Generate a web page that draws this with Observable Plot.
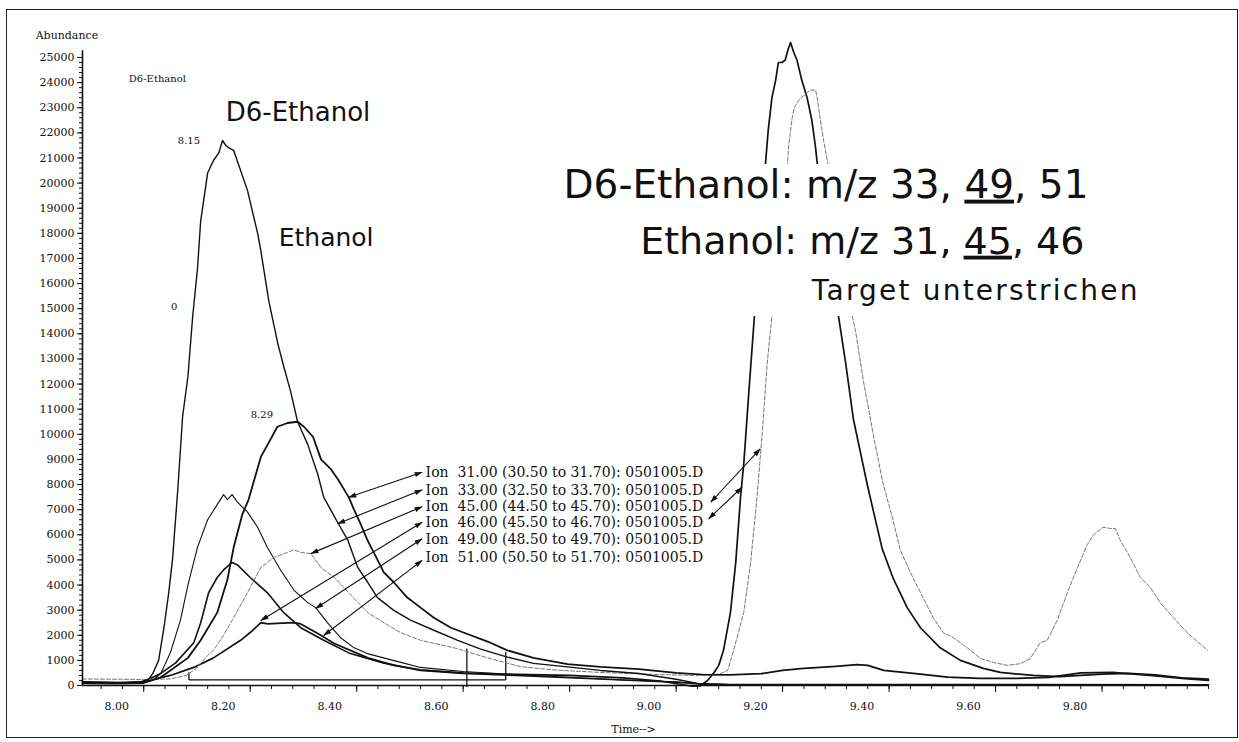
<!DOCTYPE html>
<html><head><meta charset="utf-8">
<script src="https://cdn.jsdelivr.net/npm/d3@7"></script>
<script src="https://cdn.jsdelivr.net/npm/@observablehq/plot@0.6"></script>
<style>
html,body{margin:0;padding:0;background:#fff;}
#wrap{position:relative;width:1239px;height:742px;overflow:hidden;background:#fff;}
#border{position:absolute;left:6px;top:9px;width:1232px;height:729px;border:1.5px solid #222;box-sizing:border-box;pointer-events:none;}
</style></head>
<body><div id="wrap"><div id="border"></div></div>
<script>
// ---------- data: extracted ion chromatograms [time (min), abundance] ----------
const ion31 = [[7.885,90],[7.95,80],[8.00,100],[8.03,300],[8.05,600],[8.083,1100],[8.107,1800],[8.138,2900],[8.157,4200],[8.169,5500],[8.185,6800],[8.197,7400],[8.220,9100],[8.233,9600],[8.251,10300],[8.270,10450],[8.289,10500],[8.301,10300],[8.318,9900],[8.333,9000],[8.352,8600],[8.365,8200],[8.385,7500],[8.395,7000],[8.408,6400],[8.420,5800],[8.432,5300],[8.451,4500],[8.470,4100],[8.495,3500],[8.520,3100],[8.545,2700],[8.577,2300],[8.608,2050],[8.646,1750],[8.683,1400],[8.732,1100],[8.796,850],[8.858,740],[8.93,650],[9.00,500],[9.05,430],[9.10,420],[9.16,470],[9.20,600],[9.24,680],[9.30,760],[9.34,830],[9.36,800],[9.39,600],[9.45,470],[9.51,330],[9.57,280],[9.64,280],[9.70,320],[9.76,500],[9.82,520],[9.89,400],[9.95,280],[10.0,200]];
const ion33 = [[7.885,140],[7.93,120],[7.97,110],[7.995,150],[8.010,260],[8.017,480],[8.028,1000],[8.038,2300],[8.047,3700],[8.054,5000],[8.064,7800],[8.073,10700],[8.083,12300],[8.092,14700],[8.101,16600],[8.107,18500],[8.120,20400],[8.131,20900],[8.141,21200],[8.148,21700],[8.154,21500],[8.160,21400],[8.169,21300],[8.182,20500],[8.195,19700],[8.205,18800],[8.214,18000],[8.220,17300],[8.235,15300],[8.252,13600],[8.263,12700],[8.276,11700],[8.289,10500],[8.308,9600],[8.327,8400],[8.338,7500],[8.351,7000],[8.364,6500],[8.383,5800],[8.402,4700],[8.421,4100],[8.439,3500],[8.469,3000],[8.501,2600],[8.545,2200],[8.590,1800],[8.633,1450],[8.683,1130],[8.732,880],[8.796,740],[8.858,600],[8.93,480],[9.00,250],[9.04,80],[9.10,40],[9.50,40],[10.0,30]];
const ion45 = [[7.885,260],[7.95,250],[8.00,240],[8.05,260],[8.08,400],[8.10,700],[8.12,1200],[8.131,1400],[8.150,2000],[8.169,2700],[8.195,3700],[8.220,4700],[8.245,5100],[8.270,5300],[8.282,5400],[8.295,5300],[8.314,5250],[8.333,4700],[8.358,4300],[8.389,3600],[8.421,2900],[8.451,2500],[8.483,2100],[8.520,1800],[8.583,1500],[8.646,1100],[8.708,750],[8.77,620],[8.858,520],[8.95,450],[9.03,400],[9.08,450],[9.097,600],[9.108,1400],[9.127,2900],[9.140,4900],[9.152,7500],[9.162,10100],[9.171,12800],[9.177,14100],[9.180,14700],[9.209,20600],[9.211,21400],[9.218,22600],[9.222,23000],[9.230,23300],[9.246,23600],[9.252,23700],[9.262,23700],[9.265,23400],[9.271,22500],[9.277,21700],[9.284,20900],[9.331,14700],[9.337,14100],[9.346,12900],[9.352,12100],[9.372,9800],[9.388,8100],[9.406,6700],[9.421,5400],[9.440,4500],[9.459,3700],[9.483,2700],[9.502,2100],[9.521,1900],[9.547,1500],[9.572,1070],[9.596,920],[9.622,800],[9.647,870],[9.665,1070],[9.684,1700],[9.697,1800],[9.716,2600],[9.735,3700],[9.754,4700],[9.772,5600],[9.784,6000],[9.802,6300],[9.816,6250],[9.825,6250],[9.834,5800],[9.853,5100],[9.872,4300],[9.891,3900],[9.909,3300],[9.934,2700],[9.960,2100],[9.998,1400]];
const ion46 = [[7.885,110],[7.95,100],[8.00,140],[8.02,250],[8.05,400],[8.094,720],[8.131,1100],[8.182,1800],[8.205,2200],[8.220,2500],[8.233,2450],[8.26,2480],[8.282,2500],[8.295,2450],[8.327,2070],[8.358,1670],[8.421,1100],[8.47,800],[8.52,620],[8.60,500],[8.70,440],[8.80,400],[8.90,300],[8.97,180],[9.01,40],[9.03,-30],[9.045,-20],[9.059,200],[9.070,480],[9.080,800],[9.089,1400],[9.102,2900],[9.112,4900],[9.121,7500],[9.127,8800],[9.136,11500],[9.145,14100],[9.168,20800],[9.173,22100],[9.180,23400],[9.187,24100],[9.192,24800],[9.199,24800],[9.205,24900],[9.210,25300],[9.215,25600],[9.221,25200],[9.227,24900],[9.236,24100],[9.246,23400],[9.255,22500],[9.262,21400],[9.266,20600],[9.305,14700],[9.318,12900],[9.333,10600],[9.346,9300],[9.359,8000],[9.371,6900],[9.387,5450],[9.408,4250],[9.434,3100],[9.459,2300],[9.496,1500],[9.534,1000],[9.577,680],[9.609,520],[9.671,400],[9.72,350],[9.80,450],[9.85,480],[9.90,420],[9.95,300],[10.0,250]];
const ion49 = [[7.885,100],[7.97,90],[8.00,120],[8.020,250],[8.032,480],[8.050,1300],[8.069,2600],[8.083,4000],[8.101,5500],[8.120,6600],[8.138,7200],[8.150,7600],[8.157,7400],[8.166,7600],[8.176,7300],[8.195,6900],[8.214,6300],[8.232,5500],[8.257,4600],[8.282,3800],[8.308,3300],[8.323,3100],[8.345,2500],[8.370,1900],[8.395,1500],[8.420,1270],[8.483,920],[8.52,720],[8.60,560],[8.70,430],[8.80,330],[8.90,220],[9.00,150],[9.05,60],[9.10,40],[10.0,30]];
const ion51 = [[7.885,150],[7.95,120],[8.00,150],[8.032,480],[8.060,900],[8.094,1700],[8.107,2500],[8.122,3700],[8.138,4300],[8.150,4600],[8.166,4900],[8.176,4800],[8.200,4300],[8.232,3700],[8.263,2900],[8.295,2300],[8.338,1800],[8.388,1270],[8.45,900],[8.520,600],[8.60,480],[8.70,400],[8.80,310],[8.90,220],[9.00,130],[9.05,50],[9.10,30],[10.0,20]];

// integration baseline events [t1, a1, t2, a2]
const integrationEvents = [[8.085,220,8.680,220],[8.085,220,8.085,530],[8.607,-60,8.607,1470],[8.680,220,8.680,1330]];

// axis ticks and labels
const xTickValues = [8.00,8.20,8.40,8.60,8.80,9.00,9.20,9.40,9.60,9.80];
const xTickLabels = ["8.00","8.20","8.40","8.60","8.80","9.00","9.20","9.40","9.60","9.80"];
const yTickValues = [0,1000,2000,3000,4000,5000,6000,7000,8000,9000,10000,11000,12000,13000,14000,15000,16000,17000,18000,19000,20000,21000,22000,23000,24000,25000];

// ion legend labels
const ionLabels = ["Ion\u00a0 31.00 (30.50 to 31.70): 0501005.D","Ion\u00a0 33.00 (32.50 to 33.70): 0501005.D","Ion\u00a0 45.00 (44.50 to 45.70): 0501005.D","Ion\u00a0 46.00 (45.50 to 46.70): 0501005.D","Ion\u00a0 49.00 (48.50 to 49.70): 0501005.D","Ion\u00a0 51.00 (50.50 to 51.70): 0501005.D"];
const ionLabelAbund = [8290,7600,6965,6300,5640,4910];
// double-headed pointer arrows [t1, a1, t2, a2]
const pointers = [[8.523,8490,8.385,7490],[8.523,7790,8.364,6440],[8.523,7120,8.314,5250],[8.523,6500,8.220,2590],[8.523,5840,8.323,3065],[8.523,4980,8.338,1990],[9.065,7295,9.158,9420],[9.061,6635,9.124,7892]];

// ---------- chart ----------
const X0 = 7.885, X1 = 10.0;
const line = (data, o) => Plot.line(data, {x: d => d[0], y: d => d[1], stroke: "#111", strokeLinejoin: "round", ...o});
const ev = integrationEvents.map(([x1,y1,x2,y2]) => ({x1,y1,x2,y2}));
const pt = pointers.map(([x1,y1,x2,y2]) => ({x1,y1,x2,y2}));
const labels = ionLabels.map((t,i) => ({t, y: ionLabelAbund[i]}));
const serif = "DejaVu Serif", comic = "DejaVu Sans";

const svg = Plot.plot({
  width: 1239, height: 742,
  marginLeft: 82, marginRight: 31, marginTop: 57, marginBottom: 57,
  x: {domain: [X0, X1]},
  y: {domain: [0, 25000]},
  style: {fontFamily: serif, fontSize: "11px", color: "#111", background: "transparent", overflow: "visible"},
  marks: [
    Plot.link(ev, {x1: "x1", y1: "y1", x2: "x2", y2: "y2", stroke: "#111", strokeWidth: 1.3}),
    line(ion49, {strokeWidth: 1.1}),
    line(ion51, {strokeWidth: 1.6}),
    line(ion46, {strokeWidth: 1.7}),
    line(ion45, {stroke: "#777", strokeWidth: 1, strokeDasharray: "4,2"}),
    line(ion33, {strokeWidth: 1.4}),
    line(ion31, {strokeWidth: 1.8}),
    // axes
    Plot.ruleX([X0], {y1: 0, y2: 25270, stroke: "#111", strokeWidth: 1.6}),
    Plot.ruleY([0], {x1: X0, x2: X1, stroke: "#111", strokeWidth: 1.6}),
    Plot.axisY(yTickValues, {tickSize: 5, tickPadding: 3, tickFormat: d => String(d), fontSize: 11, label: null}),
    Plot.axisY(d3.range(0, 25001, 200), {tickSize: 3, fill: "none", label: null}),
    Plot.axisX(xTickValues, {tickSize: 7, fill: "none", label: null}),
    Plot.axisX(d3.range(0, 53).map(i => +(7.92 + i * 0.04).toFixed(2)), {tickSize: 4, fill: "none", label: null}),
    Plot.axisX(xTickValues, {tickSize: 0, tickPadding: 17, dx: -27, tickFormat: (d, i) => xTickLabels[i], fontSize: 11, label: null}),
    Plot.text(["Abundance"], {x: 7.797, y: 25750, textAnchor: "start", lineAnchor: "bottom", fontSize: 11}),
    Plot.text(["Time-->"], {x: 8.92, y: -1910, lineAnchor: "bottom", fontSize: 11}),
    // peak annotations
    Plot.text(["D6-Ethanol"], {x: 7.972, y: 24040, textAnchor: "start", lineAnchor: "bottom", fontSize: 10}),
    Plot.text(["8.15"], {x: 8.064, y: 21570, textAnchor: "start", lineAnchor: "bottom", fontSize: 10}),
    Plot.text(["0"], {x: 8.051, y: 14960, textAnchor: "start", lineAnchor: "bottom", fontSize: 10}),
    Plot.text(["8.29"], {x: 8.201, y: 10630, textAnchor: "start", lineAnchor: "bottom", fontSize: 10}),
    // pointers + ion labels
    Plot.link(pt, {x1: "x1", y1: "y1", x2: "x2", y2: "y2", stroke: "#111", strokeWidth: 1.1, markerStart: "arrow", markerEnd: "arrow"}),
    Plot.text(labels, {x: 8.5295, y: "y", text: "t", textAnchor: "start", lineAnchor: "bottom", fontSize: 14}),
    // hand-written annotations
    Plot.text(["D6-Ethanol"], {x: 8.154, y: 22490, textAnchor: "start", lineAnchor: "bottom", fontSize: 26, fontFamily: comic}),
    Plot.text(["Ethanol"], {x: 8.2535, y: 17510, textAnchor: "start", lineAnchor: "bottom", fontSize: 25, fontFamily: comic}),
    Plot.rect([0], {x1: 8.7755, x2: 9.797, y1: 14690, y2: 20740, fill: "white"}),
    Plot.text(["D6-Ethanol: m/z 33, 49, 51"], {x: 8.7886, y: 19420, textAnchor: "start", lineAnchor: "bottom", fontSize: 39, fontFamily: comic}),
    Plot.text(["Ethanol: m/z 31, 45, 46"], {x: 9.767, y: 17190, textAnchor: "end", lineAnchor: "bottom", fontSize: 38, fontFamily: comic}),
    Plot.text(["Target unterstrichen"], {x: 9.255, y: 15360, textAnchor: "start", lineAnchor: "bottom", fontSize: 28, fontFamily: comic})
  ]
});

const s = d3.select(svg);
s.selectAll("marker")
  .attr("orient", "auto-start-reverse").attr("overflow", "visible")
  .attr("markerUnits", "userSpaceOnUse").attr("markerWidth", 10).attr("markerHeight", 10)
  .attr("viewBox", "-5 -5 10 10")
  .selectAll("path").attr("d", "M-7.5,-2.6L0.5,0L-7.5,2.6Z").attr("fill", "#111").attr("stroke", "none");
s.selectAll("text").each(function() {
  const str = this.textContent;
  if (!str.includes("m/z")) return;
  const m = str.match(/^(.*?)(49|45)(, \d+)$/);
  if (!m) return;
  const t = d3.select(this);
  t.text(null);
  t.append("tspan").text(m[1]);
  t.append("tspan").style("text-decoration", "underline").text(m[2]);
  t.append("tspan").text(m[3]);
});
s.selectAll("text").filter(function(){ return this.textContent === "Target unterstrichen"; }).style("letter-spacing", "2.2px");
document.getElementById("wrap").appendChild(svg);
</script></body></html>
